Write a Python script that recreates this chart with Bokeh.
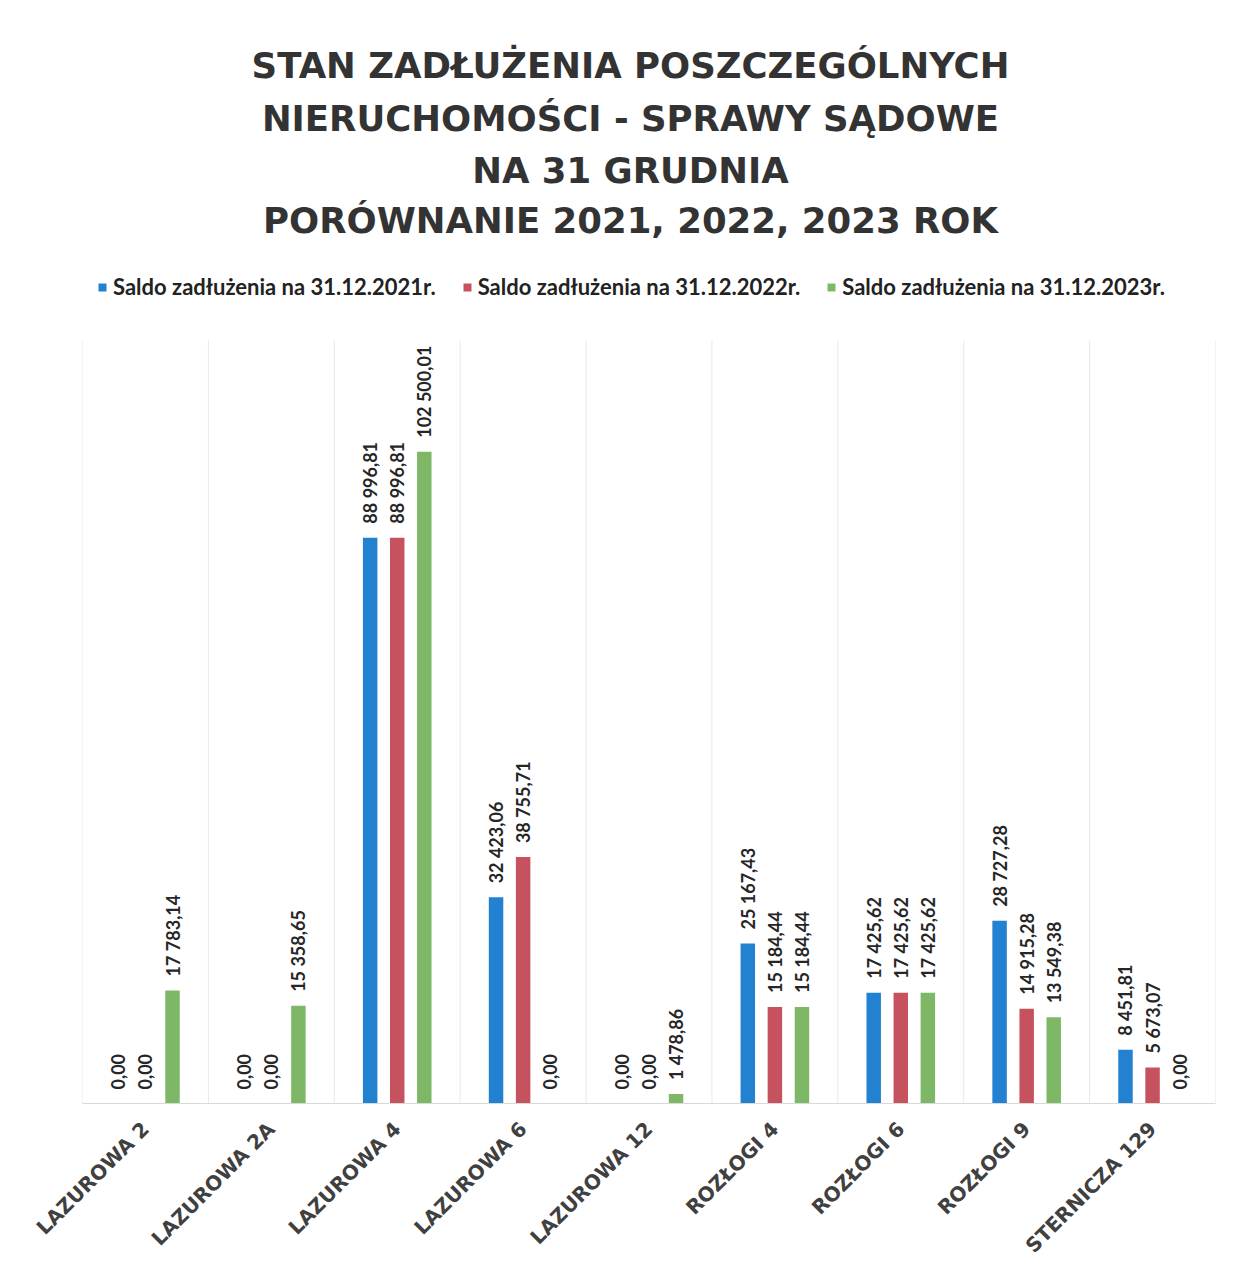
import math
from bokeh.plotting import figure
from bokeh.models import ColumnDataSource, Legend, LegendItem, FixedTicker, Range1d, Label
from bokeh.embed import file_html
from bokeh.resources import INLINE
from bokeh.core.properties import value

categories = ["LAZUROWA 2", "LAZUROWA 2A", "LAZUROWA 4", "LAZUROWA 6", "LAZUROWA 12",
              "ROZŁOGI 4", "ROZŁOGI 6", "ROZŁOGI 9", "STERNICZA 129"]
saldo_2021 = [0.00, 0.00, 88996.81, 32423.06, 0.00, 25167.43, 17425.62, 28727.28, 8451.81]
saldo_2022 = [0.00, 0.00, 88996.81, 38755.71, 0.00, 15184.44, 17425.62, 14915.28, 5673.07]
saldo_2023 = [17783.14, 15358.65, 102500.01, 0.00, 1478.86, 15184.44, 17425.62, 13549.38, 0.00]
series_names = ["Saldo zadłużenia na 31.12.2021r.",
                "Saldo zadłużenia na 31.12.2022r.",
                "Saldo zadłużenia na 31.12.2023r."]
title_lines = ["STAN ZADŁUŻENIA POSZCZEGÓLNYCH",
               "NIERUCHOMOŚCI - SPRAWY SĄDOWE",
               "NA 31 GRUDNIA",
               "PORÓWNANIE 2021, 2022, 2023 ROK"]
colors = ["#2381D1", "#C6525F", "#7EB867"]
y_max = 120000

# layout (canvas pixels)
W, H = 1218, 1268
border_left, border_right, border_bottom = 82, 3, 165
frame_w = W - border_left - border_right
frame_h = H - border_bottom            # frame spans from top of canvas to the axis
plot_top_px = 340                      # top of the bar area, measured from canvas top
px_per_unit = (frame_h - plot_top_px) / y_max
y_range_end = frame_h / px_per_unit


def y_at(canvas_y):
    return (frame_h - canvas_y) / px_per_unit


def x_at(canvas_x):
    return (canvas_x - border_left) / (frame_w / len(categories)) - 0.5


def fmt(v):
    s = f"{v:,.2f}"
    return s.replace(",", " ").replace(".", ",")


p = figure(width=W, height=H,
           x_range=Range1d(-0.5, len(categories) - 0.5), y_range=Range1d(0, y_range_end),
           output_backend="svg", toolbar_location=None,
           y_axis_location=None,
           min_border_left=border_left, min_border_right=border_right,
           min_border_top=0, min_border_bottom=border_bottom)
p.outline_line_color = None
p.grid.visible = False

# vertical separators between categories (Excel-like gridlines)
bounds = [i - 0.5 for i in range(len(categories) + 1)]
p.segment(x0=bounds, y0=[0] * len(bounds), x1=bounds, y1=[y_max] * len(bounds),
          line_color="#e8e8e8", line_width=1)

ax = p.xaxis[0]
ax.ticker = FixedTicker(ticks=list(range(len(categories))))
ax.major_label_overrides = {i: c for i, c in enumerate(categories)}
ax.major_label_orientation = math.pi / 4
ax.major_label_text_font = "DejaVu Sans"
ax.major_label_text_font_style = "bold"
ax.major_label_text_font_size = "20px"
ax.major_label_text_color = "#404040"
ax.major_label_standoff = 16
ax.axis_line_color = "#d9d9d9"
ax.major_tick_line_color = None
ax.minor_tick_line_color = None

series = [saldo_2021, saldo_2022, saldo_2023]
offsets = [-0.215, 0.0, 0.215]
renderers = []
for vals, off, col in zip(series, offsets, colors):
    src = ColumnDataSource(dict(
        x=[i + off for i in range(len(categories))],
        top=vals,
        label=[fmt(v) for v in vals],
    ))
    r = p.vbar(x="x", top="top", width=0.115, source=src,
               fill_color=col, line_color=None)
    renderers.append(r)
    p.text(x="x", y="top", text="label", source=src,
           angle=math.pi / 2, text_align="left", text_baseline="middle",
           y_offset=-14,
           text_font=value("Lato"), text_font_style="bold",
           text_font_size="18px", text_color="#262626")

legend = Legend(items=[LegendItem(label=n, renderers=[r]) for n, r in zip(series_names, renderers)],
                orientation="horizontal", location=(15, frame_h - 300),
                border_line_color=None, background_fill_alpha=0,
                label_text_font="Lato", label_text_font_style="bold",
                label_text_font_size="22px", label_text_color="#222222",
                glyph_width=10, glyph_height=10, label_standoff=6,
                spacing=26, padding=5, margin=0)
p.add_layout(legend, "center")

title_y = [65, 118, 170, 220]
for line, ty in zip(title_lines, title_y):
    p.add_layout(Label(x=x_at(630), y=y_at(ty), text=line,
                       text_align="center", text_baseline="middle",
                       text_font="DejaVu Sans", text_font_style="bold",
                       text_font_size="35.5px", text_color="#333333"))

open("out.html", "w").write(file_html(p, INLINE))
